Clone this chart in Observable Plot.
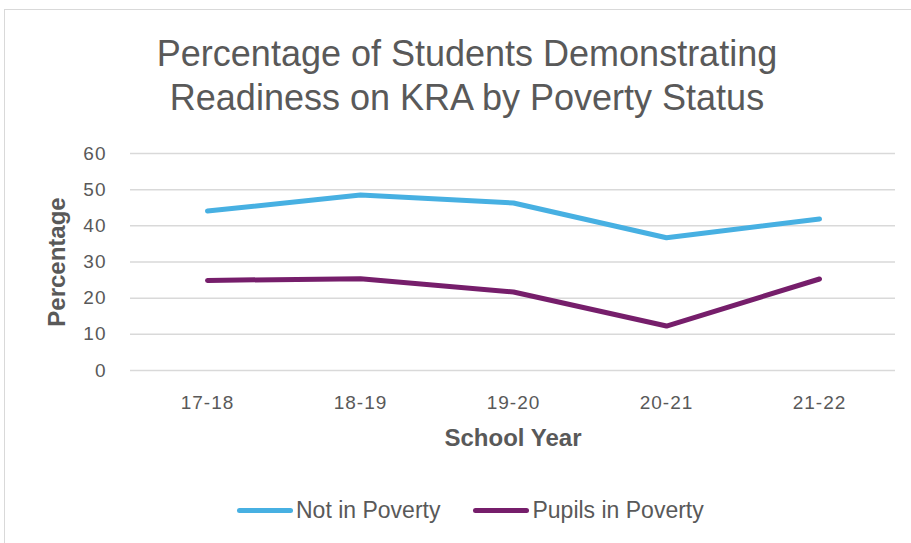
<!DOCTYPE html>
<html>
<head>
<meta charset="utf-8">
<script src="https://cdn.jsdelivr.net/npm/d3@7"></script>
<script src="https://cdn.jsdelivr.net/npm/@observablehq/plot@0.6"></script>
<style>
  html, body { margin: 0; padding: 0; background: #fff; width: 911px; height: 543px; overflow: hidden; }
  #frame { position: absolute; left: 4px; top: 9px; width: 930px; height: 560px; border: 1.5px solid #d9d9d9; box-sizing: border-box; }
  #title { position: absolute; left: 0; width: 934px; top: 32px; text-align: center; font-family: "Liberation Sans", sans-serif; font-size: 36px; line-height: 44px; color: #595959; }
  #chart { position: absolute; left: 0; top: 130px; }
  #legend { position: absolute; top: 497px; left: 237px; font-family: "Liberation Sans", sans-serif; font-size: 23px; color: #595959; display: flex; align-items: center; }
  .sw { display: inline-block; width: 56px; height: 5px; border-radius: 3px; margin-right: 3px; }
  .item { display: flex; align-items: center; margin-right: 33px; }
  #chart svg g[aria-label$="tick label"] text { letter-spacing: 1px; }
</style>
</head>
<body>
<div id="frame"></div>
<div id="title">Percentage of Students Demonstrating<br>Readiness on KRA by Poverty Status</div>
<div id="chart"></div>
<div id="legend"></div>
<script>
const years = ["17-18", "18-19", "19-20", "20-21", "21-22"];
const notInPoverty = [44.1, 48.5, 46.3, 36.7, 41.9];
const inPoverty = [24.9, 25.4, 21.7, 12.3, 25.3];
const seriesNames = ["Not in Poverty", "Pupils in Poverty"];
const seriesColors = ["#47B0E2", "#761E6B"];
const yTicks = [0, 10, 20, 30, 40, 50, 60];

const data = [];
years.forEach((y, i) => {
  data.push({year: y, value: notInPoverty[i], series: seriesNames[0]});
  data.push({year: y, value: inPoverty[i], series: seriesNames[1]});
});

const plot = Plot.plot({
  width: 911,
  height: 330,
  marginLeft: 130,
  marginRight: 16,
  marginTop: 23,
  marginBottom: 90,
  style: { fontFamily: "Liberation Sans, sans-serif", fontSize: "19px", color: "#595959", background: "transparent" },
  x: { type: "point", domain: years, padding: 0.5 },
  y: { domain: [0, 60] },
  color: { domain: seriesNames, range: seriesColors },
  marks: [
    Plot.gridY(yTicks, { stroke: "#d9d9d9", strokeOpacity: 1, strokeWidth: 1.5 }),
    Plot.axisY(yTicks, { tickSize: 0, tickPadding: 24, label: null, fontSize: 19, fill: "#595959" }),
    Plot.axisX({ tickSize: 0, tickPadding: 25, label: null, fontSize: 19, fill: "#595959" }),
    Plot.line(data, { x: "year", y: "value", z: "series", stroke: "series", strokeWidth: 5, strokeLinecap: "round", strokeLinejoin: "round" }),
    Plot.text(["School Year"], { frameAnchor: "bottom", dy: 75, fontSize: 24, fontWeight: "bold", fill: "#595959" }),
    Plot.text(["Percentage"], { frameAnchor: "left", dx: -73, rotate: -90, textAnchor: "middle", fontSize: 24, fontWeight: "bold", fill: "#595959" })
  ]
});
document.getElementById("chart").appendChild(plot);

const legend = document.getElementById("legend");
seriesNames.forEach((n, i) => {
  const item = document.createElement("div");
  item.className = "item";
  const sw = document.createElement("span");
  sw.className = "sw";
  sw.style.background = seriesColors[i];
  item.appendChild(sw);
  const t = document.createElement("span");
  t.textContent = n;
  item.appendChild(t);
  legend.appendChild(item);
});
</script>
</body>
</html>
